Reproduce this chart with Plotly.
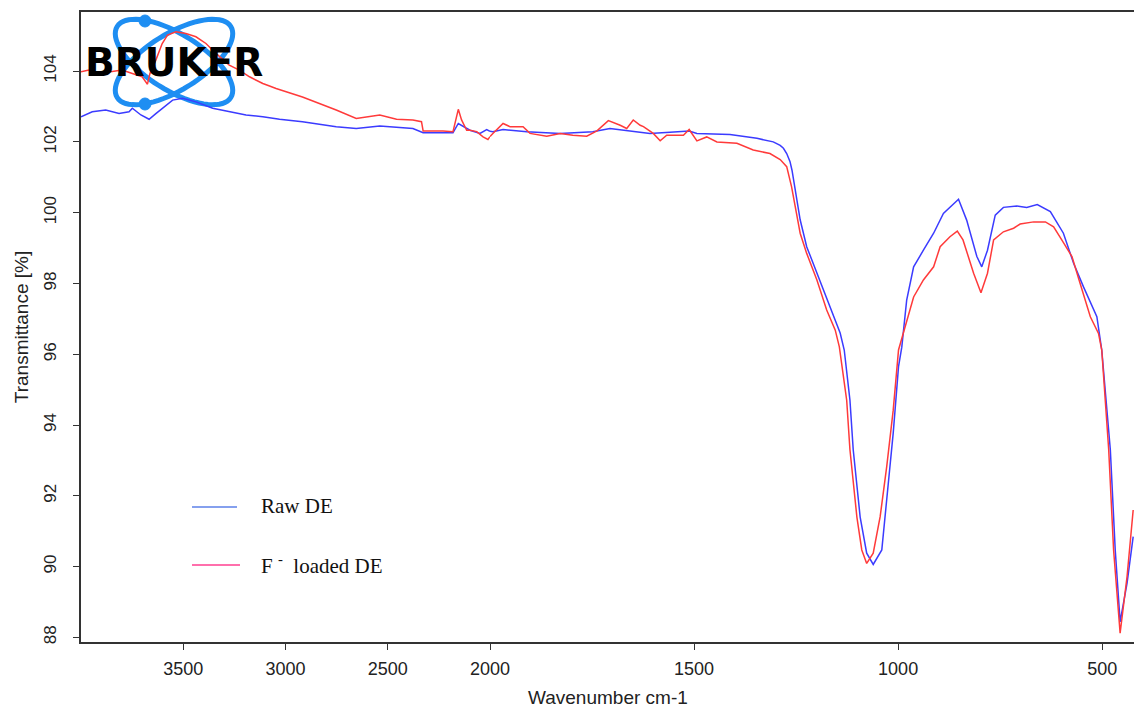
import numpy as np
import plotly.graph_objects as go

# ---------------- data ----------------
raw_wn = [4000, 3945, 3879, 3814, 3765, 3749, 3707, 3667, 3634, 3585, 3552, 3503,
          3438, 3356, 3275, 3193, 3111, 3029, 2917, 2752, 2654, 2539, 2377, 2327,
          2181, 2155, 2098, 2049, 2016, 2000, 1993, 1968, 1910, 1828, 1748, 1706,
          1632, 1608, 1559, 1512, 1493, 1412, 1346, 1306, 1289, 1281, 1273, 1265,
          1260, 1248, 1240, 1224, 1199, 1167, 1142, 1132, 1118, 1110, 1093, 1077,
          1061, 1040, 1028, 1012, 999, 991, 979, 962, 938, 913, 889, 852, 832, 807,
          795, 781, 762, 742, 709, 685, 659, 627, 595, 570, 546, 513, 501, 480, 468,
          456, 439, 424]
raw_t = [102.71, 102.85, 102.90, 102.80, 102.85, 102.95, 102.76, 102.64, 102.80,
         103.04, 103.18, 103.23, 103.13, 102.95, 102.85, 102.76, 102.71, 102.64,
         102.57, 102.43, 102.38, 102.45, 102.38, 102.26, 102.26, 102.52, 102.33,
         102.24, 102.35, 102.30, 102.29, 102.35, 102.29, 102.24, 102.29, 102.38,
         102.29, 102.24, 102.27, 102.31, 102.24, 102.21, 102.10, 102.00, 101.90,
         101.82, 101.67, 101.45, 101.20, 100.36, 99.80, 99.04, 98.29, 97.34, 96.60,
         96.12, 94.70, 93.30, 91.40, 90.38, 90.06, 90.47, 91.90, 93.77, 95.65,
         96.20, 97.53, 98.47, 98.94, 99.42, 99.98, 100.38, 99.79, 98.76, 98.47,
         98.94, 99.93, 100.15, 100.19, 100.15, 100.23, 100.03, 99.42, 98.57, 97.91,
         97.06, 96.12, 93.30, 90.47, 88.44, 89.53, 90.85]

f_wn = [4000, 3961, 3912, 3848, 3799, 3749, 3701, 3675, 3663, 3634, 3603, 3577,
        3536, 3487, 3438, 3389, 3340, 3275, 3226, 3176, 3111, 3078, 3046, 2917,
        2833, 2752, 2654, 2588, 2539, 2457, 2377, 2335, 2327, 2230, 2181, 2155,
        2139, 2114, 2098, 2065, 2034, 2010, 2000, 1993, 1968, 1951, 1919, 1902,
        1861, 1828, 1797, 1763, 1738, 1710, 1681, 1665, 1649, 1632, 1624, 1600,
        1583, 1567, 1526, 1512, 1493, 1469, 1444, 1395, 1355, 1314, 1289, 1273,
        1261, 1252, 1240, 1224, 1199, 1175, 1154, 1144, 1126, 1118, 1101, 1089,
        1077, 1061, 1044, 1028, 1012, 999, 979, 962, 938, 913, 897, 873, 855, 841,
        815, 797, 781, 766, 742, 717, 701, 668, 639, 619, 599, 574, 554, 529, 509,
        501, 484, 472, 456, 439, 424]
f_t = [103.98, 104.03, 103.93, 103.98, 104.03, 103.93, 103.84, 103.63, 103.93,
       104.31, 104.78, 105.02, 105.11, 105.06, 104.97, 104.78, 104.50, 104.17,
       104.03, 103.84, 103.65, 103.58, 103.51, 103.27, 103.09, 102.90, 102.66,
       102.71, 102.76, 102.64, 102.62, 102.57, 102.31, 102.31, 102.29, 102.92,
       102.62, 102.33, 102.33, 102.29, 102.14, 102.07, 102.15, 102.24, 102.52,
       102.43, 102.43, 102.24, 102.16, 102.24, 102.19, 102.16, 102.31, 102.60,
       102.47, 102.38, 102.62, 102.47, 102.43, 102.24, 102.03, 102.19, 102.19,
       102.35, 102.03, 102.14, 102.00, 101.96, 101.77, 101.67, 101.50, 101.30,
       100.73, 100.17, 99.42, 98.85, 98.10, 97.25, 96.68, 96.21, 94.70, 93.30,
       91.40, 90.47, 90.09, 90.38, 91.41, 92.82, 94.42, 96.12, 96.97, 97.62,
       98.10, 98.47, 99.04, 99.32, 99.48, 99.23, 98.29, 97.74, 98.29, 99.23,
       99.46, 99.56, 99.68, 99.74, 99.74, 99.60, 99.23, 98.76, 98.00, 97.06,
       96.59, 96.12, 93.30, 90.47, 88.12, 89.72, 91.60]

series_names = ["Raw DE", "F\u00a0<sup>-</sup>\u00a0\u00a0loaded DE"]
x_ticks_high = [3500, 3000, 2500]
x_ticks_low = [2000, 1500, 1000, 500]
y_ticks = [88, 90, 92, 94, 96, 98, 100, 102, 104]

# ---------------- figure ----------------
W, H = 1134, 708
ML, MR, MT, MB = 81, 0, 12, 66
PW, PH = W - ML - MR, H - MT - MB
SPLIT = 2000
split_frac = (490 - ML) / PW

BLUE = "#3b3bff"
RED = "#ff3a3a"
SANS = "Liberation Sans, Arial, sans-serif"

fig = go.Figure()


def add_split(wn, t, color):
    wn = np.asarray(wn, float)
    t = np.asarray(t, float)
    hi = wn >= SPLIT
    lo = wn <= SPLIT
    fig.add_trace(go.Scatter(x=wn[hi], y=t[hi], mode="lines", xaxis="x", yaxis="y",
                             line=dict(color=color, width=1.5), showlegend=False,
                             hoverinfo="skip"))
    fig.add_trace(go.Scatter(x=wn[lo], y=t[lo], mode="lines", xaxis="x2", yaxis="y",
                             line=dict(color=color, width=1.5), showlegend=False,
                             hoverinfo="skip"))


add_split(raw_wn, raw_t, BLUE)
add_split(f_wn, f_t, RED)

tickfont = dict(family=SANS, size=18, color="#222")
axcommon = dict(showgrid=False, zeroline=False, showline=True, linecolor="#333",
                linewidth=1.5, ticks="outside", ticklen=6, tickwidth=1.3,
                tickcolor="#333", tickfont=tickfont, mirror=True,
                ticklabelstandoff=4)

fig.update_layout(
    width=W, height=H,
    margin=dict(l=ML, r=MR, t=MT, b=MB),
    paper_bgcolor="white", plot_bgcolor="white",
    xaxis=dict(domain=[0, split_frac], range=[4000, SPLIT], anchor="y",
               tickvals=x_ticks_high, ticktext=[str(v) for v in x_ticks_high], **axcommon),
    xaxis2=dict(domain=[split_frac, 1], range=[SPLIT, 422], anchor="y",
                tickvals=x_ticks_low, ticktext=[str(v) for v in x_ticks_low], **axcommon),
    yaxis=dict(range=[87.87, 105.67], tickvals=y_ticks, tickangle=-90,
               showgrid=False, zeroline=False, showline=True, linecolor="#333",
               linewidth=1.5, ticks="outside", ticklen=6, tickwidth=1.3,
               tickcolor="#333", tickfont=dict(family=SANS, size=17, color="#222"),
               ticklabelstandoff=10,
               title=dict(text="Transmittance [%]", standoff=8,
                          font=dict(family=SANS, size=19, color="#222"))),
    showlegend=False,
)


def px(xpix):
    return (xpix - ML) / PW


def py(ypix):
    return (H - MB - ypix) / PH


# x-axis title spanning both x-axes
fig.add_annotation(text="Wavenumber cm-1", xref="paper", yref="paper", x=0.5, y=0,
                   yshift=-55, showarrow=False, xanchor="center", yanchor="middle",
                   font=dict(family=SANS, size=19, color="#222"))

# legend (drawn manually to mirror the reference)
legend_colors = ["#5d80e8", "#ff3f90"]
legend_y = [507, 565]
legend_x1 = [237, 240]
for name, col, yy, x1 in zip(series_names, legend_colors, legend_y, legend_x1):
    fig.add_shape(type="line", xref="paper", yref="paper", x0=px(192), x1=px(x1),
                  y0=py(yy), y1=py(yy), line=dict(color=col, width=1.4))
    fig.add_annotation(text=name, xref="paper", yref="paper", x=px(259), y=py(yy - 1),
                       xanchor="left", yanchor="middle", showarrow=False,
                       font=dict(family="Liberation Serif, Times New Roman, serif",
                                 size=21, color="#111"))

# BRUKER logo (decoration)
cx, cy = 174, 62
a, b = 67, 28
for ang in (32, -32):
    th = np.deg2rad(ang)
    tt = np.linspace(0, 2 * np.pi, 73)
    ex = cx + a * np.cos(tt) * np.cos(th) - b * np.sin(tt) * np.sin(th)
    ey = cy + a * np.cos(tt) * np.sin(th) + b * np.sin(tt) * np.cos(th)
    path = "M " + " L ".join(f"{px(u):.5f},{py(v):.5f}" for u, v in zip(ex, ey)) + " Z"
    fig.add_shape(type="path", xref="paper", yref="paper", path=path,
                  line=dict(color="#1e8ef2", width=5), layer="below")
for (dx, dy) in [(145, 21), (145, 104)]:
    r = 6
    fig.add_shape(type="circle", xref="paper", yref="paper",
                  x0=px(dx - r), x1=px(dx + r), y0=py(dy + r), y1=py(dy - r),
                  fillcolor="#1e8ef2", line=dict(color="#1e8ef2", width=1), layer="below")
fig.add_annotation(text="<b>BRUKER</b>", xref="paper", yref="paper", x=px(174), y=py(62),
                   xanchor="center", yanchor="middle", showarrow=False,
                   font=dict(family="DejaVu Sans, sans-serif", size=39, color="black"))

fig.write_html("out.html")
